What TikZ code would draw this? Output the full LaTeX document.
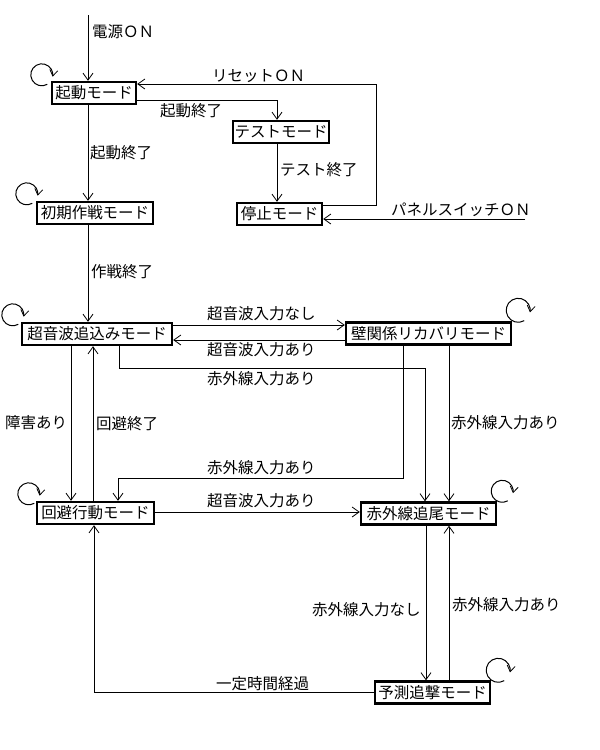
\documentclass[tikz,border=0pt]{standalone}
\usepackage{fontspec}
\setmainfont{Noto Sans CJK JP}
\usetikzlibrary{arrows.meta,calc}
\newcommand{\jpfont}{\fontsize{15.5}{17}\selectfont}
\begin{document}
\begin{tikzpicture}[x=1pt,y=-1pt,
  mode/.style={draw,line width=2.4pt,inner sep=0pt,minimum height=22pt,font=\jpfont},
  lbl/.style={inner sep=0pt,anchor=west,font=\jpfont},
  arr/.style={line width=1pt,-{Straight Barb[length=7pt,width=10pt,line width=0.8pt]}},
  selfloop/.style={line width=1pt,-{Straight Barb[length=6pt,width=8pt,line width=0.8pt]}}]
\useasboundingbox (0,0) rectangle (600,750);
\fill[white] (0,0) rectangle (600,750);

% states
\node[mode,minimum width=84pt] (kido) at (94,93) {起動モード};
\node[mode,minimum width=96pt] (test) at (281,132) {テストモード};
\node[mode,minimum width=85pt] (teishi) at (279.5,214) {停止モード};
\node[mode,minimum width=116pt] (shoki) at (95,213) {初期作戦モード};
\node[mode,minimum width=150pt] (choon) at (97,334) {超音波追込みモード};
\node[mode,minimum width=165pt] (kabe) at (428.5,333.5) {壁関係リカバリモード};
\node[mode,minimum width=117pt] (kaihi) at (95.5,513) {回避行動モード};
\node[mode,minimum width=135pt] (sekigai) at (428.5,513.5) {赤外線追尾モード};
\node[mode,minimum width=115pt] (yosoku) at (432.5,692.5) {予測追撃モード};

% helper coordinates
\coordinate (pwr) at (88,15);
\coordinate (k2t) at (0,100);
\coordinate (rs) at (376,84);
\coordinate (pnl) at (525,219);
\coordinate (r1) at (0,325);
\coordinate (r2) at (0,340);
\coordinate (cD) at (71,0);
\coordinate (cU) at (93,0);
\coordinate (t1) at (119,368);
\coordinate (cS1) at (425,0);
\coordinate (t2) at (403,478);
\coordinate (cK) at (118,0);
\coordinate (r3) at (0,512);
\coordinate (cR) at (449,0);
\coordinate (cY) at (426,0);
\coordinate (cL) at (94,0);

% connectors
\draw[arr] (pwr) -- (pwr |- kido.north);
\draw[arr] (kido.south -| pwr) -- (shoki.north -| pwr);
\draw[arr] (shoki.south -| pwr) -- (choon.north -| pwr);
\draw[arr] (kido.east |- k2t) -| ([xshift=-4pt]test.north);
\draw[arr] ([xshift=-4pt]test.south) -- ([xshift=-4pt]test.south |- teishi.north);
\draw[arr] ([yshift=9pt]teishi.east) -| (rs) -- (rs -| kido.east);
\draw[arr] (pnl) -- (pnl -| teishi.east);
\draw[arr] (choon.east |- r1) -- (kabe.west |- r1);
\draw[arr] (kabe.west |- r2) -- (choon.east |- r2);
\draw[arr] (choon.south -| cD) -- (kaihi.north -| cD);
\draw[arr] (kaihi.north -| cU) -- (choon.south -| cU);
\draw[arr] (choon.south -| t1) |- (t1 -| cS1) -- (sekigai.north -| cS1);
\draw[arr] (kabe.south -| t2) |- (t2 -| cK) -- (kaihi.north -| cK);
\draw[arr] (kaihi.east |- r3) -- (sekigai.west |- r3);
\draw[arr] (kabe.south -| cR) -- (sekigai.north -| cR);
\draw[arr] (sekigai.south -| cY) -- (yosoku.north -| cY);
\draw[arr] (yosoku.north -| cR) -- (sekigai.south -| cR);
\draw[arr] (yosoku.west) -| (kaihi.south -| cL);

% self loops
\draw[selfloop] ($(kido.north west)+(-9,-6)$) ++(60:11) arc[start angle=60,end angle=370,radius=11];
\draw[selfloop] ($(shoki.north west)+(-9,-7)$) ++(60:11) arc[start angle=60,end angle=370,radius=11];
\draw[selfloop] ($(choon.north west)+(-8,-7)$) ++(60:11) arc[start angle=60,end angle=370,radius=11];
\draw[selfloop] ($(kaihi.north west)+(-7,-7)$) ++(60:11) arc[start angle=60,end angle=370,radius=11];
\draw[selfloop] ($(kabe.north east)+(6,-11)$) ++(60:12) arc[start angle=60,end angle=370,radius=12];
\draw[selfloop] ($(sekigai.north east)+(5,-10)$) ++(60:11) arc[start angle=60,end angle=370,radius=11];
\draw[selfloop] ($(yosoku.north east)+(7,-10)$) ++(60:12) arc[start angle=60,end angle=370,radius=12];

% labels
\node[lbl] (l1) at (92,32) {電源ＯＮ};
\node[lbl] (l2) at (212,76) {リセットＯＮ};
\node[lbl] (l3) at (160,111) {起動終了};
\node[lbl] (l4) at (90,153) {起動終了};
\node[lbl] (l5) at (280,170) {テスト終了};
\node[lbl] (l6) at (391,210) {パネルスイッチＯＮ};
\node[lbl] (l7) at (91,272) {作戦終了};
\node[lbl] (l8) at (207,314) {超音波入力なし};
\node[lbl] (l9) at (207,350) {超音波入力あり};
\node[lbl] (l10) at (207,379) {赤外線入力あり};
\node[lbl] (l11) at (5,423) {障害あり};
\node[lbl] (l12) at (96,424) {回避終了};
\node[lbl] (l13) at (451,423) {赤外線入力あり};
\node[lbl] (l14) at (207,468) {赤外線入力あり};
\node[lbl] (l15) at (207,501) {超音波入力あり};
\node[lbl] (l16) at (312,610) {赤外線入力なし};
\node[lbl] (l17) at (452,605) {赤外線入力あり};
\node[lbl] (l18) at (216,684) {一定時間経過};
\end{tikzpicture}
\end{document}
